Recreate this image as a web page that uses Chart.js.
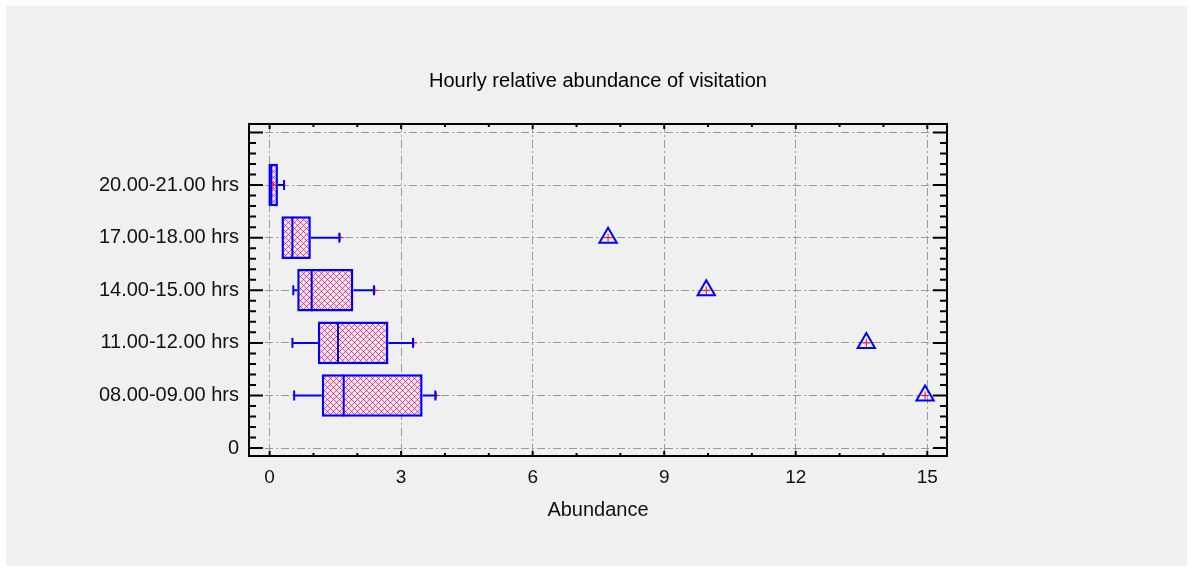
<!DOCTYPE html>
<html>
<head>
<meta charset="utf-8">
<script src="https://cdn.jsdelivr.net/npm/chart.js@4.4.1/dist/chart.umd.min.js"></script>
<style>
  html, body { margin: 0; padding: 0; background: #fff; }
  canvas { display: block; }
</style>
</head>
<body>
<canvas id="boxChart" width="1192" height="570"></canvas>
<script>
// Box & whisker plot of hourly visitation
const categories  = ['08.00-09.00 hrs', '11.00-12.00 hrs', '14.00-15.00 hrs', '17.00-18.00 hrs', '20.00-21.00 hrs'];
const whiskerLow  = [0.56, 0.52, 0.54, 0.27, 0.00];
const q1          = [1.19, 1.10, 0.63, 0.27, 0.00];
const median      = [1.69, 1.56, 0.96, 0.52, 0.00];
const q3          = [3.49, 2.71, 1.91, 0.94, 0.19];
const whiskerHigh = [3.78, 3.27, 2.38, 1.59, 0.33];
const means       = [3.80, 3.29, 2.40, 1.61, 0.08];
const outliers    = [14.95, 13.61, 9.96, 7.72, null];
const xTicks = [0, 3, 6, 9, 12, 15];
const yTicks = [0, 1, 2, 3, 4, 5, 6];
const yTickLabels = ['0', ...categories, ''];

const blue = '#0000ff';
const red = '#ff0000';
const font = '"Liberation Sans", Arial, sans-serif';

// category i sits at y = i + 1 (0 is left as an empty row, like the original)
const pos = categories.map((c, i) => i + 1);

// cross-hatch fill for the boxes
function hatch() {
  const c = document.createElement('canvas');
  c.width = 6; c.height = 6;
  const g = c.getContext('2d');
  g.fillStyle = '#f6e6ee';
  g.fillRect(0, 0, 6, 6);
  g.fillStyle = '#e8488e';
  for (let i = 0; i < 6; i++) {
    g.fillRect(i, i, 1, 1);
    g.fillRect((6 - i) % 6, i, 1, 1);
  }
  g.fillStyle = '#d8105e';
  g.fillRect(0, 0, 1, 1);
  g.fillRect(3, 3, 1, 1);
  return g.createPattern(c, 'repeat');
}

const boxData = pos.map((y, i) => ({ x: [q1[i], q3[i]], y }));
const whiskerData = [];
pos.forEach((y, i) => {
  whiskerData.push({ x: whiskerLow[i], y }, { x: q1[i], y }, { x: null, y });
  whiskerData.push({ x: q3[i], y }, { x: whiskerHigh[i], y }, { x: null, y });
});
const capData = [];
pos.forEach((y, i) => {
  if (whiskerLow[i] < q1[i]) capData.push({ x: whiskerLow[i], y });
  capData.push({ x: whiskerHigh[i], y });
});
const medianData = pos.map((y, i) => ({ x: median[i], y }));
const meanData = pos.map((y, i) => ({ x: means[i], y }));
const outlierData = pos.map((y, i) => ({ x: outliers[i], y })).filter(p => p.x !== null);

// background panel + framed plot with inward ticks on all four sides
const framePlugin = {
  id: 'frame',
  beforeDraw(chart) {
    const { ctx, width, height } = chart;
    ctx.save();
    ctx.fillStyle = '#ffffff';
    ctx.fillRect(0, 0, width, height);
    ctx.fillStyle = '#f0f0f0';
    ctx.fillRect(6, 6, width - 11, height - 10);
    ctx.restore();
  },
  afterDraw(chart) {
    const { ctx, chartArea: a, scales: { x, y } } = chart;
    ctx.save();
    ctx.strokeStyle = '#000';
    ctx.lineWidth = 2;
    ctx.strokeRect(a.left, a.top, a.right - a.left, a.bottom - a.top);
    ctx.beginPath();
    for (let v = Math.ceil(x.min); v <= x.max; v++) {
      const px = x.getPixelForValue(v);
      const len = v % 3 === 0 ? 5 : 3;
      ctx.moveTo(px, a.bottom); ctx.lineTo(px, a.bottom - len);
      ctx.moveTo(px, a.top); ctx.lineTo(px, a.top + len);
    }
    for (let k = Math.ceil(y.min * 5); k <= y.max * 5; k++) {
      const py = y.getPixelForValue(k / 5);
      const len = k % 5 === 0 ? 14 : 7;
      ctx.moveTo(a.left, py); ctx.lineTo(a.left + len, py);
      ctx.moveTo(a.right, py); ctx.lineTo(a.right - len, py);
    }
    ctx.stroke();
    ctx.restore();
  }
};

const ctx = document.getElementById('boxChart').getContext('2d');
const chart = new Chart(ctx, {
  type: 'bar',
  data: {
    datasets: [
      {
        type: 'bar',
        indexAxis: 'y',
        data: boxData,
        backgroundColor: hatch(),
        borderColor: blue,
        borderWidth: 2.5,
        borderSkipped: false,
        barPercentage: 0.81,
        categoryPercentage: 1,
        order: 6
      },
      {
        type: 'scatter',
        data: meanData,
        pointStyle: 'cross',
        radius: 3.5,
        borderColor: red,
        borderWidth: 1,
        order: 5
      },
      {
        type: 'scatter',
        data: whiskerData,
        showLine: true,
        spanGaps: false,
        borderColor: blue,
        borderWidth: 2,
        pointRadius: 0,
        order: 4
      },
      {
        type: 'scatter',
        data: capData,
        pointStyle: 'line',
        rotation: 90,
        radius: 5,
        borderColor: blue,
        borderWidth: 2,
        order: 3
      },
      {
        type: 'scatter',
        data: medianData,
        pointStyle: 'line',
        rotation: 90,
        radius: 21,
        borderColor: blue,
        borderWidth: 2,
        order: 2
      },
      {
        type: 'scatter',
        data: outlierData,
        pointStyle: 'cross',
        radius: 4,
        borderColor: red,
        borderWidth: 1,
        order: 1
      },
      {
        type: 'scatter',
        data: outlierData,
        pointStyle: 'triangle',
        radius: 10,
        backgroundColor: 'rgba(0,0,0,0)',
        borderColor: blue,
        borderWidth: 2,
        order: 0
      }
    ]
  },
  options: {
    responsive: false,
    animation: false,
    layout: { padding: { left: 0, right: 245, top: 0, bottom: 48 } },
    plugins: {
      legend: { display: false },
      tooltip: { enabled: false },
      title: {
        display: true,
        fullSize: false,
        text: 'Hourly relative abundance of visitation',
        color: '#000',
        font: { family: font, size: 20, weight: 'normal' },
        padding: { top: 69, bottom: 31 }
      }
    },
    scales: {
      x: {
        type: 'linear',
        offset: false,
        beginAtZero: false,
        min: -0.47,
        max: 15.45,
        afterBuildTicks: s => { s.ticks = xTicks.map(v => ({ value: v })); },
        afterFit: s => { s.height = 66; },
        grid: { offset: false, color: '#999999', lineWidth: 1, drawTicks: false },
        border: { display: false, dash: [8, 3, 2, 3] },
        ticks: {
          autoSkip: false,
          padding: 10,
          color: '#111',
          font: { family: font, size: 19 },
          callback: v => String(v)
        },
        title: {
          display: true,
          text: 'Abundance',
          color: '#111',
          font: { family: font, size: 20 },
          padding: 0
        }
      },
      y: {
        type: 'linear',
        offset: false,
        beginAtZero: false,
        min: -0.15,
        max: 6.16,
        afterBuildTicks: s => { s.ticks = yTicks.map(v => ({ value: v })); },
        afterFit: s => { s.width = 249; },
        grid: { offset: false, color: '#999999', lineWidth: 1, drawTicks: false },
        border: { display: false, dash: [8, 3, 2, 3] },
        ticks: {
          autoSkip: false,
          padding: 10,
          color: '#111',
          font: { family: font, size: 20 },
          callback: v => yTickLabels[yTicks.indexOf(v)]
        }
      }
    }
  },
  plugins: [framePlugin]
});
</script>
</body>
</html>
